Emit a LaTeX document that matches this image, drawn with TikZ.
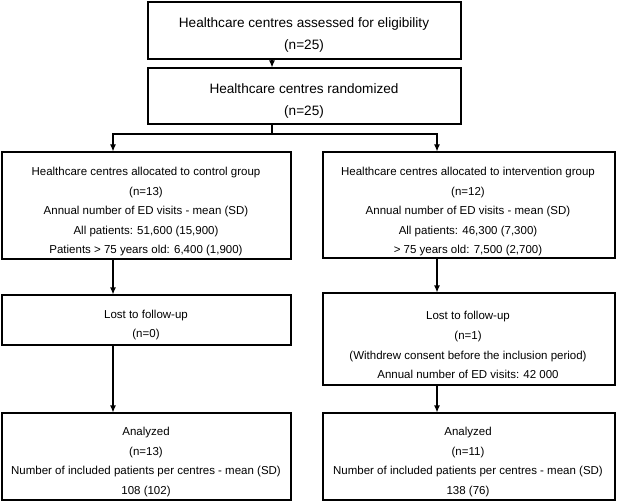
\documentclass[tikz,border=0pt]{standalone}
\usepackage{fontspec}
\setmainfont{Liberation Sans}
\usetikzlibrary{arrows.meta}
\begin{document}
\begin{tikzpicture}[x=1pt,y=-1pt,
  box/.style={draw, line width=1.1pt, rectangle, inner sep=0pt},
  arr/.style={-{Latex[length=7pt,width=6pt]}, line width=1.1pt},
  link/.style={line width=1.1pt},
  big/.style={font=\fontsize{13.6}{16}\selectfont, anchor=base, inner sep=0pt},
  sml/.style={font=\fontsize{11.5}{14}\selectfont, anchor=base, inner sep=0pt}]
\useasboundingbox (0,0) rectangle (617,502);
% boxes
\node[box, minimum width=313pt, minimum height=57pt] (b1) at (304.5,30.5) {};
\node[box, minimum width=313pt, minimum height=56pt] (b2) at (304.5,96) {};
\node[box, minimum width=289pt, minimum height=107pt] (c1) at (146.5,205.5) {};
\node[box, minimum width=292pt, minimum height=106pt] (i1) at (469,205) {};
\node[box, minimum width=289pt, minimum height=50pt] (c2) at (146.5,320) {};
\node[box, minimum width=292pt, minimum height=92pt] (i2) at (469,339) {};
\node[box, minimum width=289pt, minimum height=87pt] (c3) at (146.5,456.5) {};
\node[box, minimum width=292pt, minimum height=87pt] (i3) at (469,456.5) {};
% texts
\node[big] (t11) at (304,28) {Healthcare centres assessed for eligibility};
\node[big] (t12) at (304,50) {(n=25)};
\node[big] (t21) at (304,94) {Healthcare centres randomized};
\node[big] (t22) at (304,116) {(n=25)};
\node[sml] (tc11) at (146,176) {Healthcare centres allocated to control group};
\node[sml] (tc12) at (146,196) {(n=13)};
\node[sml] (tc13) at (146,215) {Annual number of ED visits - mean (SD)};
\node[sml] (tc14) at (146,235) {All patients: 51,600 (15,900)};
\node[sml] (tc15) at (146,254) {Patients > 75 years old: 6,400 (1,900)};
\node[sml] (ti11) at (468,176) {Healthcare centres allocated to intervention group};
\node[sml] (ti12) at (468,196) {(n=12)};
\node[sml] (ti13) at (468,215) {Annual number of ED visits - mean (SD)};
\node[sml] (ti14) at (468,235) {All patients: 46,300 (7,300)};
\node[sml] (ti15) at (468,254) {> 75 years old: 7,500 (2,700)};
\node[sml] (tc21) at (146,318) {Lost to follow-up};
\node[sml] (tc22) at (146,337) {(n=0)};
\node[sml] (ti21) at (468,319) {Lost to follow-up};
\node[sml] (ti22) at (468,339) {(n=1)};
\node[sml] (ti23) at (468,359) {(Withdrew consent before the inclusion period)};
\node[sml] (ti24) at (468,378) {Annual number of ED visits: 42 000};
\node[sml] (tc31) at (146,435) {Analyzed};
\node[sml] (tc32) at (146,455) {(n=13)};
\node[sml] (tc33) at (146,474) {Number of included patients per centres - mean (SD)};
\node[sml] (tc34) at (146,494) {108 (102)};
\node[sml] (ti31) at (468,435) {Analyzed};
\node[sml] (ti32) at (468,455) {(n=11)};
\node[sml] (ti33) at (468,474) {Number of included patients per centres - mean (SD)};
\node[sml] (ti34) at (468,494) {138 (76)};
% connectors
\coordinate (xm) at (272,0);
\coordinate (xl) at (113,0);
\coordinate (xr) at (437,0);
\coordinate (j) at (272,134);
\draw[arr] (b1.south -| xm) -- (b2.north -| xm);
\draw[link] (b2.south -| xm) -- (j);
\draw[arr] (j) -| (c1.north -| xl);
\draw[arr] (j) -| (i1.north -| xr);
\draw[arr] (c1.south -| xl) -- (c2.north -| xl);
\draw[arr] (c2.south -| xl) -- (c3.north -| xl);
\draw[arr] (i1.south -| xr) -- (i2.north -| xr);
\draw[arr] (i2.south -| xr) -- (i3.north -| xr);
\end{tikzpicture}
\end{document}
